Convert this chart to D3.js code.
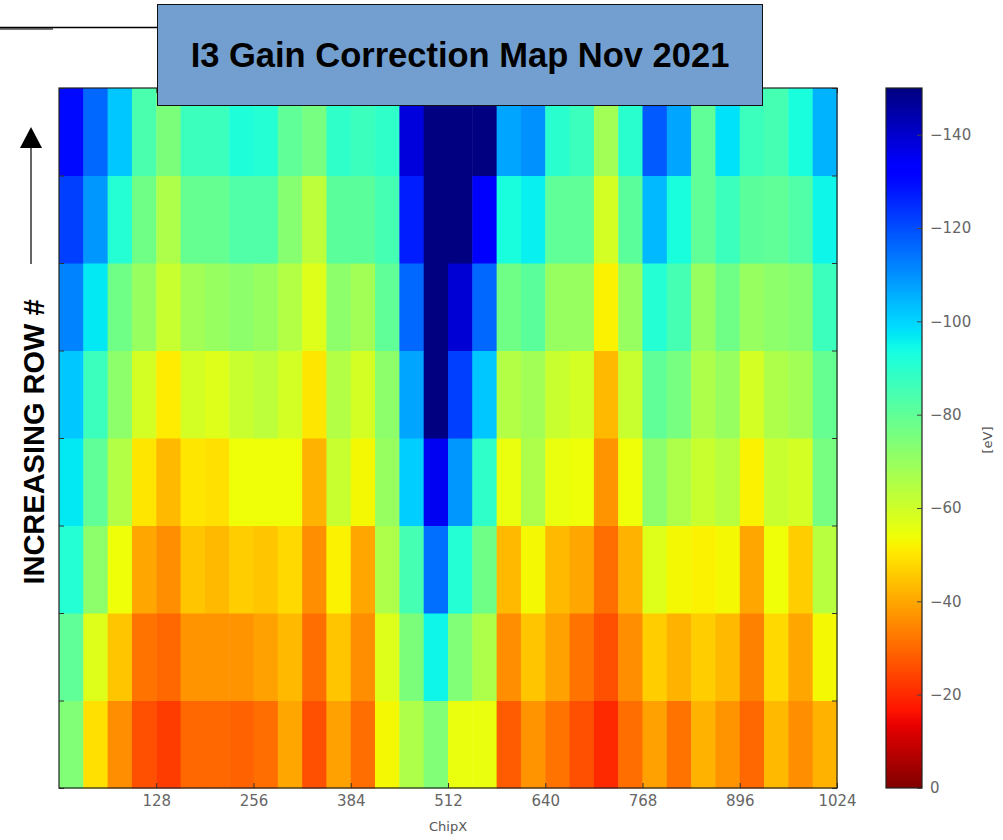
<!DOCTYPE html>
<html>
<head>
<meta charset="utf-8">
<script src="https://cdn.jsdelivr.net/npm/d3@7"></script>
<style>
  body { margin: 0; background: #fff; }
  svg { display: block; }
</style>
</head>
<body>
<div id="chart-area"></div>
<script>
// gain correction [eV] per 32-pixel column block, row0 = bottom, row7 = top
var row7 = [-130,-116,-102,-84,-75,-87,-87,-92,-91,-80,-76,-89,-87,-89,-138,-155,-155,-152,-107,-110,-90,-87,-68,-90,-118,-107,-80,-98,-87,-85,-93,-105];
var row6 = [-122,-109,-91,-77,-66,-79,-79,-83,-83,-73,-63,-81,-81,-85,-127,-155,-155,-133,-93,-96,-80,-80,-59,-81,-104,-93,-80,-87,-81,-80,-83,-95];
var row5 = [-112,-97,-77,-70,-61,-68,-70,-72,-70,-65,-57,-72,-68,-80,-116,-152,-139,-116,-77,-81,-70,-70,-52,-70,-91,-85,-70,-77,-70,-72,-73,-87];
var row4 = [-102,-87,-72,-59,-51,-59,-57,-61,-63,-59,-50,-65,-59,-72,-107,-150,-122,-102,-65,-68,-61,-59,-43,-61,-80,-76,-66,-70,-59,-66,-68,-79];
var row3 = [-97,-80,-65,-50,-43,-50,-49,-54,-54,-54,-42,-61,-53,-70,-101,-135,-109,-89,-55,-66,-55,-54,-37,-54,-72,-66,-61,-64,-52,-61,-59,-76];
var row2 = [-91,-72,-54,-40,-36,-45,-43,-46,-45,-48,-36,-52,-40,-66,-85,-115,-91,-77,-43,-53,-43,-40,-31,-42,-57,-53,-52,-53,-40,-54,-46,-64];
var row1 = [-80,-57,-45,-32,-30,-37,-37,-37,-39,-43,-31,-45,-36,-57,-75,-95,-74,-66,-36,-45,-39,-32,-26,-36,-46,-42,-46,-43,-34,-48,-40,-53];
var row0 = [-74,-49,-36,-26,-23,-30,-30,-29,-31,-40,-26,-39,-31,-53,-66,-74,-55,-55,-28,-37,-32,-26,-20,-31,-39,-32,-42,-37,-30,-43,-36,-42];
var rows = [row0, row1, row2, row3, row4, row5, row6, row7];

var blockWidth = 32;
var xTicks = [128, 256, 384, 512, 640, 768, 896, 1024];
var cbTicks = [-140, -120, -100, -80, -60, -40, -20, 0];
var titleText = 'I3 Gain Correction Map Nov 2021';

var plot = { left: 59, right: 837, top: 88, bottom: 788 };
var cb = { left: 886, right: 922 };

var svg = d3.select('#chart-area')
  .append('svg')
    .attr('width', 1003)
    .attr('height', 840);

// jet colormap built from linear scales (matplotlib segment data)
var rS = d3.scaleLinear().domain([0, 0.35, 0.66, 0.89, 1]).range([0, 0, 1, 1, 0.5]).clamp(true);
var gS = d3.scaleLinear().domain([0, 0.125, 0.375, 0.64, 0.91, 1]).range([0, 0, 1, 1, 0, 0]).clamp(true);
var bS = d3.scaleLinear().domain([0, 0.11, 0.34, 0.65, 1]).range([0.5, 1, 1, 0, 0]).clamp(true);
var norm = d3.scaleLinear().domain([-150, 0]).range([0, 1]).clamp(true);
function jet(v) {
  var t = norm(v);
  return d3.rgb(rS(t) * 255, gS(t) * 255, bS(t) * 255).formatHex();
}

var x = d3.scaleLinear().domain([0, 1024]).range([plot.left, plot.right]);
var y = d3.scaleLinear().domain([0, rows.length]).range([plot.bottom, plot.top]);

// cells
var cells = [];
rows.forEach(function (r, ri) {
  r.forEach(function (v, ci) { cells.push({ row: ri, col: ci, value: v }); });
});

svg.append('g')
  .selectAll('rect')
  .data(cells)
  .enter()
  .append('rect')
    .attr('x', function (d) { return x(d.col * blockWidth); })
    .attr('y', function (d) { return y(d.row + 1); })
    .attr('width', function (d) { return x((d.col + 1) * blockWidth) - x(d.col * blockWidth) + 0.5; })
    .attr('height', function (d) { return y(d.row) - y(d.row + 1) + 0.5; })
    .attr('fill', function (d) { return jet(d.value); });

// X axis (inward ticks)
var xAxisGroup = svg.append('g')
  .attr('transform', 'translate(0,' + plot.bottom + ')')
  .call(d3.axisBottom(x).tickValues(xTicks).tickFormat(d3.format('d')).tickSize(-5).tickPadding(7));
xAxisGroup.select('.domain').remove();
xAxisGroup.selectAll('line').attr('stroke', '#333');
xAxisGroup.selectAll('text')
  .attr('fill', '#666')
  .attr('font-family', 'DejaVu Sans')
  .attr('font-size', '15px');

var xTopGroup = svg.append('g')
  .attr('transform', 'translate(0,' + plot.top + ')')
  .call(d3.axisTop(x).tickValues(xTicks).tickSize(-5).tickFormat(''));
xTopGroup.select('.domain').remove();
xTopGroup.selectAll('line').attr('stroke', '#333');

// Y ticks at row boundaries, both sides, no labels
var yLeft = svg.append('g')
  .attr('transform', 'translate(' + plot.left + ',0)')
  .call(d3.axisLeft(y).ticks(8).tickSize(-5).tickFormat(''));
yLeft.select('.domain').remove();
yLeft.selectAll('line').attr('stroke', '#333');
var yRight = svg.append('g')
  .attr('transform', 'translate(' + plot.right + ',0)')
  .call(d3.axisRight(y).ticks(8).tickSize(-5).tickFormat(''));
yRight.select('.domain').remove();
yRight.selectAll('line').attr('stroke', '#333');

// frame
svg.append('rect')
  .attr('x', plot.left)
  .attr('y', plot.top)
  .attr('width', plot.right - plot.left)
  .attr('height', plot.bottom - plot.top)
  .attr('fill', 'none')
  .attr('stroke', '#222')
  .attr('stroke-width', 1.2);

// X label
svg.append('text')
  .attr('x', (plot.left + plot.right) / 2)
  .attr('y', 831)
  .attr('text-anchor', 'middle')
  .attr('font-family', 'DejaVu Sans')
  .attr('font-size', '13px')
  .attr('fill', '#555')
  .text('ChipX');

// colorbar
var cbY = d3.scaleLinear().domain([-150, 0]).range([plot.top, plot.bottom]);
var grad = svg.append('defs').append('linearGradient')
  .attr('id', 'jetGrad')
  .attr('x1', 0).attr('y1', 0).attr('x2', 0).attr('y2', 1);
grad.selectAll('stop')
  .data(d3.range(0, 101))
  .enter()
  .append('stop')
    .attr('offset', function (d) { return d + '%'; })
    .attr('stop-color', function (d) { return jet(cbY.invert(plot.top + d / 100 * (plot.bottom - plot.top))); });

svg.append('rect')
  .attr('x', cb.left)
  .attr('y', plot.top)
  .attr('width', cb.right - cb.left)
  .attr('height', plot.bottom - plot.top)
  .attr('fill', 'url(#jetGrad)')
  .attr('stroke', '#222')
  .attr('stroke-width', 1.2);

var cbAxis = svg.append('g')
  .attr('transform', 'translate(' + cb.right + ',0)')
  .call(d3.axisRight(cbY).tickValues(cbTicks).tickSize(-5).tickPadding(8));
cbAxis.select('.domain').remove();
cbAxis.selectAll('line').attr('stroke', '#444');
cbAxis.selectAll('text')
  .attr('fill', '#666')
  .attr('font-family', 'DejaVu Sans')
  .attr('font-size', '15px');

svg.append('text')
  .attr('transform', 'translate(992,440) rotate(-90)')
  .attr('text-anchor', 'middle')
  .attr('font-family', 'DejaVu Sans')
  .attr('font-size', '13px')
  .attr('fill', '#555')
  .text('[eV]');

// annotation line top-left
svg.append('line')
  .attr('x1', 0).attr('x2', 53).attr('y1', 29).attr('y2', 29)
  .attr('stroke', '#777').attr('stroke-width', 2);
svg.append('line')
  .attr('x1', 0).attr('x2', 158).attr('y1', 27.5).attr('y2', 27.5)
  .attr('stroke', '#000').attr('stroke-width', 1.5);

// title box
svg.append('rect')
  .attr('x', 157.5)
  .attr('y', 4.5)
  .attr('width', 605)
  .attr('height', 101)
  .attr('fill', '#729fcf')
  .attr('stroke', '#111')
  .attr('stroke-width', 1);
svg.append('text')
  .attr('x', 460)
  .attr('y', 67)
  .attr('text-anchor', 'middle')
  .attr('font-family', 'Liberation Sans, Arial, sans-serif')
  .attr('font-weight', 'bold')
  .attr('font-size', '34.5px')
  .attr('fill', '#000')
  .text(titleText);

// row direction arrow and label
svg.append('line')
  .attr('x1', 31).attr('x2', 31).attr('y1', 264).attr('y2', 146)
  .attr('stroke', '#666').attr('stroke-width', 2);
svg.append('path')
  .attr('d', 'M31,127 L20,148 L42,148 Z')
  .attr('fill', '#000');
svg.append('text')
  .attr('transform', 'translate(44,442) rotate(-90)')
  .attr('text-anchor', 'middle')
  .attr('font-family', 'Liberation Sans, Arial, sans-serif')
  .attr('font-weight', 'bold')
  .attr('font-size', '29px')
  .attr('fill', '#000')
  .text('INCREASING ROW #');
</script>
</body>
</html>
